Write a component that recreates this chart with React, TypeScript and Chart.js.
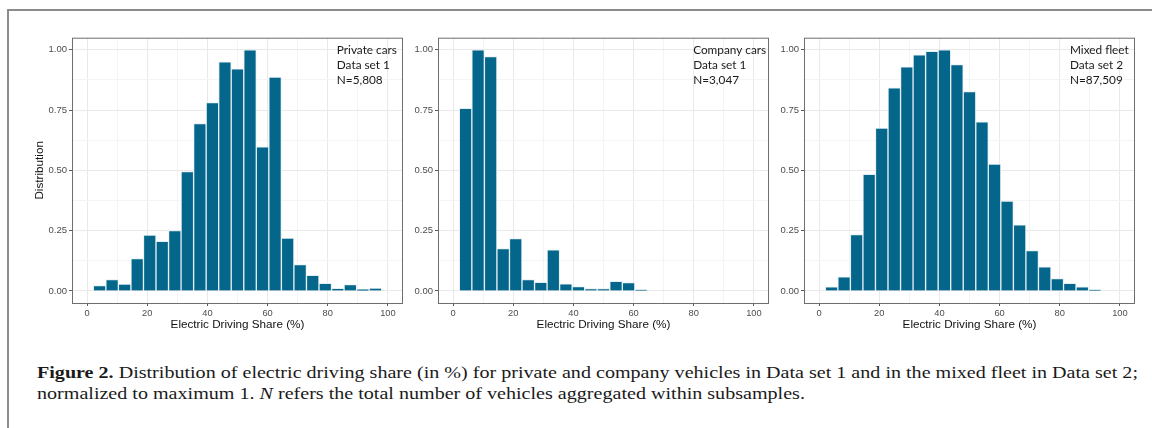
import React, { useEffect, useLayoutEffect, useRef } from "react";
import { Chart, registerables } from "chart.js";

Chart.register(...registerables);

// ---- data ----
const binCenters = [4.17, 8.33, 12.5, 16.67, 20.83, 25, 29.17, 33.33, 37.5, 41.67, 45.83, 50, 54.17, 58.33, 62.5, 66.67, 70.83, 75, 79.17, 83.33, 87.5, 91.67, 95.83];
const privateCars = [0.022, 0.047, 0.028, 0.134, 0.232, 0.206, 0.25, 0.495, 0.694, 0.781, 0.95, 0.921, 1.0, 0.598, 0.887, 0.219, 0.109, 0.065, 0.032, 0.011, 0.026, 0.007, 0.012];
const companyCars = [0.757, 1.0, 0.972, 0.176, 0.217, 0.047, 0.036, 0.17, 0.03, 0.018, 0.01, 0.01, 0.04, 0.035, 0.005];
const mixedFleet = [0.017, 0.058, 0.234, 0.483, 0.675, 0.842, 0.929, 0.979, 0.994, 1.0, 0.939, 0.827, 0.701, 0.526, 0.373, 0.274, 0.167, 0.1, 0.051, 0.032, 0.017, 0.005];
const xTicks = [0, 10, 20, 30, 40, 50, 60, 70, 80, 90, 100];
const yTicks = [0, 0.125, 0.25, 0.375, 0.5, 0.625, 0.75, 0.875, 1];
const privateLabel = ["Private cars", "Data set 1", "N=5,808"];
const companyLabel = ["Company cars", "Data set 1", "N=3,047"];
const mixedLabel = ["Mixed fleet", "Data set 2", "N=87,509"];
const xTitle = "Electric Driving Share (%)";
const yTitle = "Distribution";

const BAR = "#03668a";
const BAR_EDGE = "#e4eff3";
const GRID_MAJOR = "#e9e9e9";
const GRID_MINOR = "#f4f4f4";
const AXIS_TICK = "#5a5a5a";
const PANEL_BORDER = "#6e6e6e";

const isMajorX = (v: number) => Math.abs(v / 20 - Math.round(v / 20)) < 1e-6;
const isMajorY = (v: number) => Math.abs(v * 4 - Math.round(v * 4)) < 1e-6;

const panelPlugin = {
  id: "panelDeco",
  afterDraw(chart: any) {
    const { ctx, chartArea } = chart;
    const o = chart.options.plugins.panelDeco || {};
    ctx.save();
    ctx.strokeStyle = PANEL_BORDER;
    ctx.lineWidth = 1;
    ctx.strokeRect(chartArea.left + 0.5, chartArea.top + 0.5, chartArea.right - chartArea.left - 1, chartArea.bottom - chartArea.top);
    if (o.lines) {
      const xs = chart.scales.x;
      const px = xs.getPixelForValue(o.x);
      ctx.fillStyle = "#1a1a1a";
      ctx.font = "11.8px Lato";
      ctx.textBaseline = "alphabetic";
      ctx.textAlign = "left";
      o.lines.forEach((t: string, i: number) => {
        ctx.fillText(t, px, chartArea.top + 16 + i * 15);
      });
    }
    ctx.restore();
  },
};

function Panel({ values, lines, textX, showYTitle, left }: { values: number[]; lines: string[]; textX: number; showYTitle: boolean; left: number }) {
  const ref = useRef<HTMLCanvasElement>(null);
  useEffect(() => {
    const chart = new Chart(ref.current!, {
      type: "bar",
      data: {
        datasets: [
          {
            data: values.map((v, i) => ({ x: binCenters[i], y: v })),
            backgroundColor: BAR,
            borderColor: BAR_EDGE,
            borderWidth: 1,
            barPercentage: 1,
            categoryPercentage: 1,
          } as any,
        ],
      },
      options: {
        responsive: false,
        animation: false,
        devicePixelRatio: 1,
        layout: { padding: { left: 0, top: 7, right: 7, bottom: 0 } },
        plugins: {
          legend: { display: false },
          tooltip: { enabled: false },
          panelDeco: { lines, x: textX },
        } as any,
        scales: {
          x: {
            type: "linear",
            min: -5,
            max: 105,
            offset: false,
            afterBuildTicks: (s: any) => {
              s.ticks = xTicks.map((v) => ({ value: v }));
            },
            afterFit: (s: any) => {
              s.height = 37;
            },
            grid: {
              offset: false,
              color: (c: any) => (isMajorX(c.tick.value) ? GRID_MAJOR : GRID_MINOR),
              tickColor: (c: any) => (isMajorX(c.tick.value) ? AXIS_TICK : "rgba(0,0,0,0)"),
              tickLength: 3,
              lineWidth: 1,
            },
            border: { display: false },
            ticks: {
              autoSkip: false,
              maxRotation: 0,
              padding: 2,
              color: "#4d4d4d",
              font: { family: "Liberation Sans", size: 9.3 },
              callback: (v: any) => (isMajorX(Number(v)) ? String(v) : ""),
            },
            title: {
              display: true,
              text: xTitle,
              color: "#111",
              font: { family: "Liberation Sans", size: 11.7 },
              padding: { top: 0, bottom: 8 },
            },
          },
          y: {
            type: "linear",
            min: -0.05,
            max: 1.05,
            afterBuildTicks: (s: any) => {
              s.ticks = yTicks.map((v) => ({ value: v }));
            },
            afterFit: (s: any) => {
              s.width = 58;
            },
            grid: {
              color: (c: any) => (isMajorY(c.tick.value) ? GRID_MAJOR : GRID_MINOR),
              tickColor: (c: any) => (isMajorY(c.tick.value) ? AXIS_TICK : "rgba(0,0,0,0)"),
              tickLength: 3,
              lineWidth: 1,
            },
            border: { display: false },
            ticks: {
              autoSkip: false,
              padding: 2,
              color: "#4d4d4d",
              font: { family: "Liberation Sans", size: 9.5 },
              callback: (v: any) => (isMajorY(Number(v)) ? Number(v).toFixed(2) : ""),
            },
            title: {
              display: showYTitle,
              text: yTitle,
              color: "#111",
              font: { family: "Liberation Sans", size: 11.7 },
              padding: { top: 19, bottom: 0 },
            },
          },
        },
      },
      plugins: [panelPlugin],
    } as any);
    return () => chart.destroy();
  }, []);
  return (
    <canvas
      ref={ref}
      width={396}
      height={310}
      style={{ position: "absolute", left, top: 30, width: 396, height: 310 }}
    />
  );
}

const CAPTION_LINE1_WIDTH = 1101;
const CAPTION_LINE2_WIDTH = 780;

function Caption() {
  const boxRef = useRef<HTMLDivElement>(null);
  const line1Ref = useRef<HTMLDivElement>(null);
  const line1Span = useRef<HTMLSpanElement>(null);
  const line2Ref = useRef<HTMLSpanElement>(null);
  useLayoutEffect(() => {
    const w1 = line1Span.current!.getBoundingClientRect().width;
    const w2 = line2Ref.current!.getBoundingClientRect().width;
    if (w1 > 0 && w2 > 0) {
      const s = Math.min(CAPTION_LINE1_WIDTH / w1, CAPTION_LINE2_WIDTH / w2);
      boxRef.current!.style.transform = `scaleX(${s})`;
      line1Ref.current!.style.width = `${CAPTION_LINE1_WIDTH / s}px`;
      line1Ref.current!.style.textAlign = "justify";
      (line1Ref.current!.style as any).textAlignLast = "justify";
    }
  }, []);
  return (
    <div
      ref={boxRef}
      style={{
        position: "absolute",
        left: 37,
        top: 362,
        transformOrigin: "0 0",
        fontFamily: '"Liberation Serif", serif',
        fontSize: 16.5,
        lineHeight: "21px",
        color: "#1a1a1a",
      }}
    >
      <div ref={line1Ref} style={{ whiteSpace: "nowrap" }}>
        <span ref={line1Span}>
          <b>Figure 2.</b> Distribution of electric driving share (in %) for private and company vehicles in Data set 1 and in the mixed fleet in Data set 2;
        </span>
      </div>
      <div style={{ whiteSpace: "nowrap" }}>
        <span ref={line2Ref}>
          normalized to maximum 1. <i>N</i> refers the total number of vehicles aggregated within subsamples.
        </span>
      </div>
    </div>
  );
}

export default function App() {
  return (
    <div style={{ position: "absolute", left: 0, top: 0, width: 1152, height: 428, background: "#fff", overflow: "hidden" }}>
      <div
        style={{
          position: "absolute",
          left: 7,
          top: 9,
          width: 1150,
          height: 425,
          borderTop: "2px solid #8c8c8c",
          borderLeft: "2px solid #8c8c8c",
        }}
      />
      <Panel values={privateCars} lines={privateLabel} textX={83} showYTitle={true} left={14} />
      <Panel values={companyCars} lines={companyLabel} textX={79.8} showYTitle={false} left={380} />
      <Panel values={mixedFleet} lines={mixedLabel} textX={83.4} showYTitle={false} left={746} />
      <Caption />
    </div>
  );
}
